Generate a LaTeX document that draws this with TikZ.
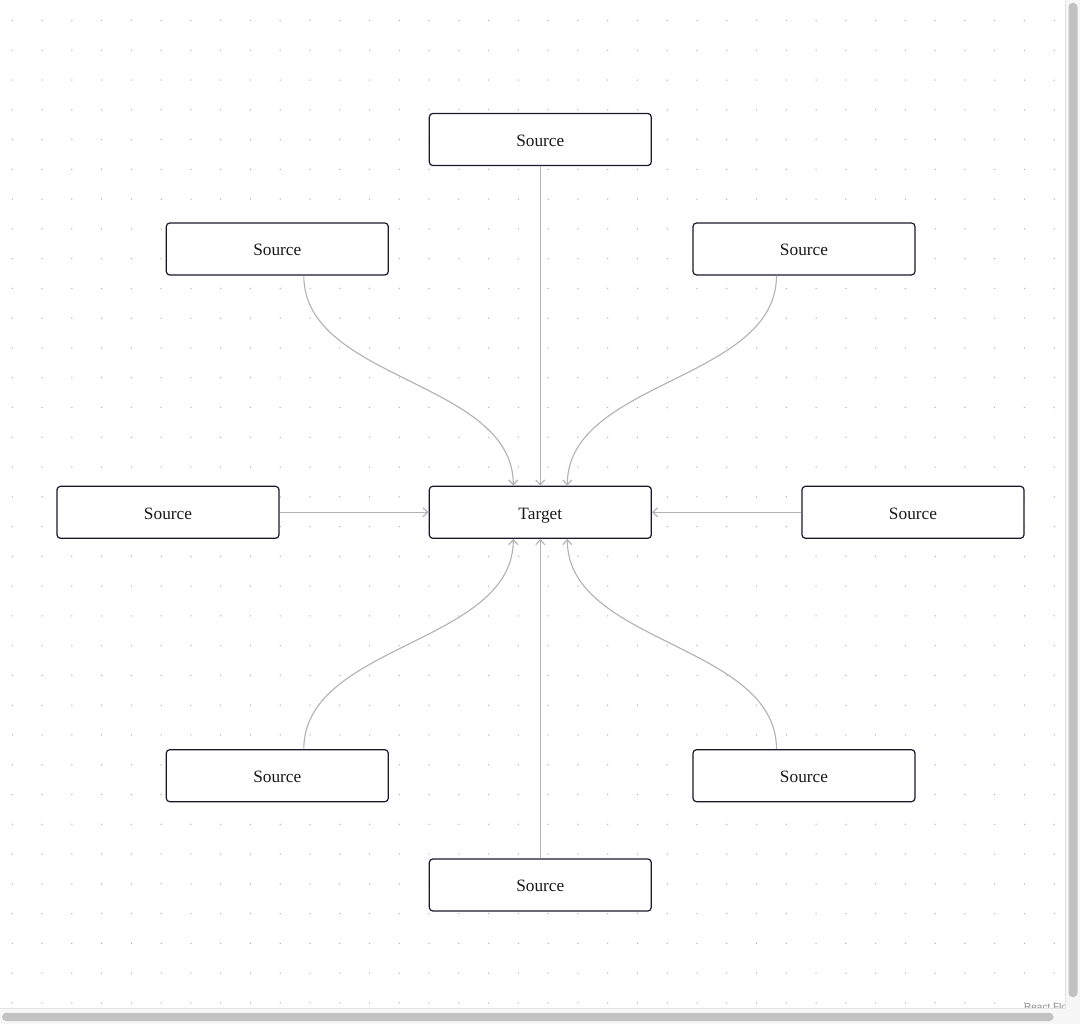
\documentclass[tikz,border=0pt]{standalone}
\usepackage{fontspec}
\setmainfont{Liberation Serif}
\newfontfamily\attrfont{Liberation Sans}
\usetikzlibrary{arrows.meta,calc}
\definecolor{nodeborder}{HTML}{1A192B}
\definecolor{edgecol}{HTML}{B1B1B7}
\definecolor{dotcol}{HTML}{B4B4BA}
\definecolor{trackcol}{HTML}{F7F7F7}
\definecolor{trackline}{HTML}{E3E3E3}
\definecolor{thumbcol}{HTML}{C2C2C2}
\tikzset{
  flownode/.style={draw=nodeborder, line width=1.2pt, fill=white, rounded corners=3.5pt,
    minimum width=222pt, minimum height=52pt, inner sep=0pt, text=black!90,
    text height=13.6pt, text depth=0pt,
    font=\fontsize{17.3}{20}\selectfont},
  flowedge/.style={draw=edgecol, line width=1.1pt, -{Straight Barb[length=5pt,width=9pt,line width=1.1pt]}}
}
\begin{document}
\begin{tikzpicture}[x=1pt,y=-1pt]
\useasboundingbox (0,0) rectangle (1080,1024);
\fill[white] (0,0) rectangle (1080,1024);
% dot grid
\foreach \i in {0,...,35}{
  \foreach \j in {0,...,33}{
    \fill[dotcol] ({12.3+29.77*\i},{20.5+29.77*\j}) circle (0.75pt);
  }
}
% nodes
\node[flownode] (top) at (540.3,139.5) {Source};
\node[flownode] (tl) at (277.3,249) {Source};
\node[flownode] (tr) at (804,249) {Source};
\node[flownode] (lft) at (168,512.3) {Source};
\node[flownode] (target) at (540.3,512.3) {Target};
\node[flownode] (rgt) at (913,512.3) {Source};
\node[flownode] (bl) at (277.3,775.7) {Source};
\node[flownode] (br) at (804,775.7) {Source};
\node[flownode] (bot) at (540.3,885) {Source};
% handles
\coordinate (tlh) at ($(tl.south)+(26.5,0)$);
\coordinate (trh) at ($(tr.south)+(-27.5,0)$);
\coordinate (blh) at ($(bl.north)+(26.5,0)$);
\coordinate (brh) at ($(br.north)+(-27.5,0)$);
\coordinate (tnl) at ($(target.north)+(-27,0)$);
\coordinate (tnr) at ($(target.north)+(27,0)$);
\coordinate (tsl) at ($(target.south)+(-27,0)$);
\coordinate (tsr) at ($(target.south)+(27,0)$);
% edges
\draw[flowedge] (top.south) -- (target.north);
\draw[flowedge] (bot.north) -- (target.south);
\draw[flowedge] (lft.east) -- (target.west);
\draw[flowedge] (rgt.west) -- (target.east);
\draw[flowedge] (tlh) .. controls ($(tlh)+(0,105.5)$) and ($(tnl)+(0,-105.5)$) .. (tnl);
\draw[flowedge] (trh) .. controls ($(trh)+(0,105.5)$) and ($(tnr)+(0,-105.5)$) .. (tnr);
\draw[flowedge] (blh) .. controls ($(blh)+(0,-105.5)$) and ($(tsl)+(0,105.5)$) .. (tsl);
\draw[flowedge] (brh) .. controls ($(brh)+(0,-105.5)$) and ($(tsr)+(0,105.5)$) .. (tsr);
% attribution (partly hidden)
\node[anchor=base west, inner sep=0pt, text=black!45, font=\attrfont\fontsize{10}{12}\selectfont] (attr) at (1024,1010.8) {React Flow};
% scrollbars
\fill[trackcol] (1065,0) rectangle (1080,1024);
\fill[trackcol] (0,1008) rectangle (1080,1024);
\draw[trackline, line width=0.8pt] (1065.4,0) -- (1065.4,1008.4) -- (0,1008.4);
\fill[thumbcol, rounded corners=4pt] (1068.5,3) rectangle (1077.5,997);
\fill[thumbcol, rounded corners=4pt] (2,1012.8) rectangle (1053.5,1021);
\end{tikzpicture}
\end{document}
